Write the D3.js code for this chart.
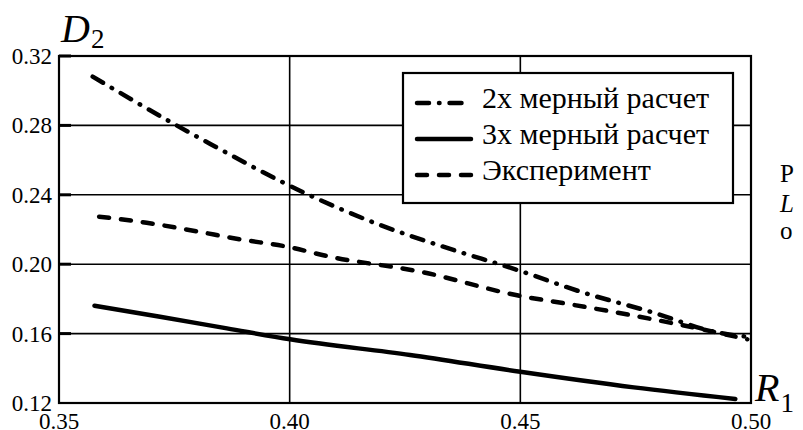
<!DOCTYPE html>
<html><head><meta charset="utf-8">
<script src="https://cdn.jsdelivr.net/npm/d3@7"></script>
<style>html,body{margin:0;padding:0;background:#fff;overflow:hidden}</style>
</head><body><svg id="c" width="803" height="430"></svg>
<script>
const xTicks = [0.35, 0.40, 0.45, 0.50];
const yTicks = [0.12, 0.16, 0.20, 0.24, 0.28, 0.32];
const seriesNames = ["2х мерный расчет", "3х мерный расчет", "Эксперимент"];
const calc2D = [[0.3573,0.3081],[0.3755,0.2800],[0.3828,0.2693],[0.4037,0.2405],[0.4196,0.2226],[0.4333,0.2101],[0.4500,0.1961],[0.4630,0.1842],[0.4782,0.1726],[0.4934,0.1603],[0.4992,0.1582]];
const calc3D = [[0.3577,0.1761],[0.3719,0.1697],[0.3864,0.1630],[0.4001,0.1567],[0.4261,0.1477],[0.4500,0.1380],[0.4746,0.1290],[0.4966,0.1223]];
const experiment = [[0.3587,0.2274],[0.3690,0.2239],[0.3791,0.2193],[0.3893,0.2143],[0.3994,0.2101],[0.4088,0.2043],[0.4283,0.1957],[0.4500,0.1817],[0.4594,0.1775],[0.4739,0.1707],[0.4883,0.1631],[0.4992,0.1567]];

const svg = d3.select("#c");
const L = 59, R = 751, T = 56, B = 403;
const x = d3.scaleLinear().domain([0.35, 0.50]).range([L, R]);
const y = d3.scaleLinear().domain([0.12, 0.32]).range([B, T]);
const font = "Liberation Serif";

// grid
svg.append("g").selectAll("line").data(xTicks.slice(1,-1)).join("line")
  .attr("x1", d=>x(d)).attr("x2", d=>x(d)).attr("y1", T).attr("y2", B)
  .attr("stroke","#000").attr("stroke-width",1.6);
svg.append("g").selectAll("line").data(yTicks.slice(1,-1)).join("line")
  .attr("x1", L).attr("x2", R).attr("y1", d=>y(d)).attr("y2", d=>y(d))
  .attr("stroke","#000").attr("stroke-width",1.6);
// y ticks (short thick)
svg.append("g").selectAll("line").data(yTicks.slice(1)).join("line")
  .attr("x1", L).attr("x2", L+12).attr("y1", d=>y(d)).attr("y2", d=>y(d))
  .attr("stroke","#000").attr("stroke-width",3);
// frame
svg.append("rect").attr("x",L).attr("y",T).attr("width",R-L).attr("height",B-T)
  .attr("fill","none").attr("stroke","#000").attr("stroke-width",2.2);

// tick labels
svg.append("g").selectAll("text").data(yTicks).join("text")
  .attr("x", 52).attr("y", d=>y(d)).attr("dy","0.35em").attr("text-anchor","end")
  .style("font-family",font).attr("font-size",23).text(d=>d.toFixed(2));
svg.append("g").selectAll("text").data(xTicks).join("text")
  .attr("x", d=>x(d)).attr("y", 429).attr("text-anchor","middle")
  .style("font-family",font).attr("font-size",23).text(d=>d.toFixed(2));

// axis titles
const dt = svg.append("text").attr("x",61).attr("y",42).style("font-family",font);
dt.append("tspan").attr("font-style","italic").attr("font-size",40).text("D");
dt.append("tspan").attr("font-size",27).attr("dy",6).attr("dx",1).text("2");
const rt = svg.append("text").attr("x",755).attr("y",401).style("font-family",font);
rt.append("tspan").attr("font-style","italic").attr("font-size",40).text("R");
rt.append("tspan").attr("font-size",27).attr("dy",11).attr("dx",1).text("1");

// clipped right-side text
svg.append("text").attr("x",780).attr("y",182).style("font-family",font).attr("font-size",25).text("Р");
svg.append("text").attr("x",780).attr("y",212).style("font-family",font).attr("font-size",25).attr("font-style","italic").text("L");
svg.append("text").attr("x",780).attr("y",239).style("font-family",font).attr("font-size",25).text("о");

// curves
const line = d3.line().x(d=>x(d[0])).y(d=>y(d[1])).curve(d3.curveMonotoneX);
const dashes = ["12,10,0.5,10", null, "10,12"];
[calc2D, calc3D, experiment].forEach((data,i)=>{
  svg.append("path").datum(data).attr("d", line).attr("fill","none")
    .attr("stroke","#000").attr("stroke-width",4.5).attr("stroke-linecap","round")
    .attr("stroke-dasharray", dashes[i]);
});

// legend
const lg = svg.append("g");
lg.append("rect").attr("x",403).attr("y",73).attr("width",330).attr("height",130)
  .attr("fill","#fff").attr("stroke","#000").attr("stroke-width",2.2);
const baselines = [108, 144, 180];
seriesNames.forEach((n,i)=>{
  lg.append("line").attr("x1",417).attr("x2",471).attr("y1",baselines[i]-5).attr("y2",baselines[i]-5)
    .attr("stroke","#000").attr("stroke-width",4.5).attr("stroke-linecap","round")
    .attr("stroke-dasharray", dashes[i]);
  lg.append("text").attr("x",482).attr("y",baselines[i]).style("font-family",font)
    .attr("font-size",30).text(n);
});
</script></body></html>
